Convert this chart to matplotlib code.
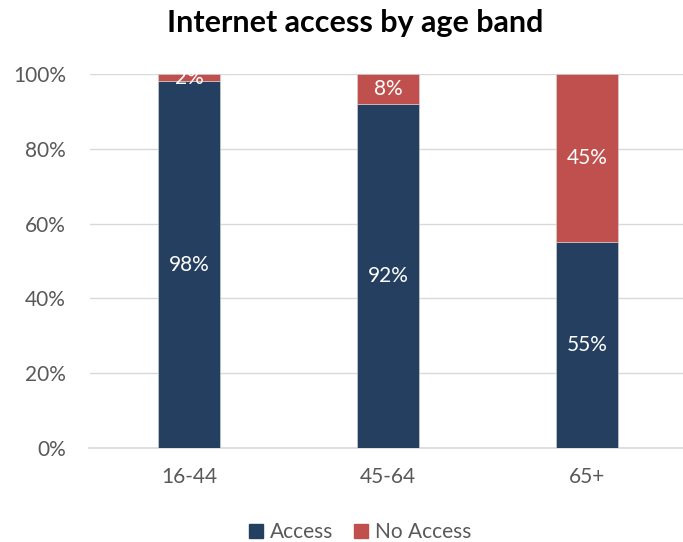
import numpy as np
import matplotlib
matplotlib.use("Agg")
import matplotlib.pyplot as plt
from matplotlib.patches import Patch

plt.rcParams['font.family'] = ['Lato', 'DejaVu Sans']

# data
bands = ['16-44', '45-64', '65+']
access = [98, 92, 55]
no_access = [2, 8, 45]

navy = '#243F60'
red = '#C0504D'
grey = '#595959'

fig = plt.figure(figsize=(6.83, 5.42), dpi=100)
ax = fig.add_axes([89.5/683, 94/542, 597/683, 374/542])

x = np.arange(len(bands))
w = 0.31
b1 = ax.bar(x, access, w, color=navy, edgecolor='#D9D9D9', linewidth=0.4, zorder=3)
b2 = ax.bar(x, no_access, w, bottom=access, color=red, edgecolor='#D9D9D9', linewidth=0.4, zorder=3)

for i in range(len(bands)):
    ax.text(x[i], access[i]/2, '%d%%' % access[i], ha='center', va='center',
            color='white', fontsize=15, zorder=4)
    ax.text(x[i], access[i] + no_access[i]/2, '%d%%' % no_access[i], ha='center', va='center',
            color='white', fontsize=15, zorder=4)

ax.set_xlim(-0.5, 2.5)
ax.set_ylim(0, 100)
ax.set_yticks(np.arange(0, 101, 20))
ax.set_yticklabels(['%d%%' % v for v in range(0, 101, 20)])
ax.set_xticks(x)
ax.set_xticklabels(bands)
ax.grid(axis='y', color='#D9D9D9', linewidth=1, zorder=0)
for s in ['top', 'right', 'left']:
    ax.spines[s].set_visible(False)
ax.spines['bottom'].set_color('#D9D9D9')
ax.spines['bottom'].set_linewidth(1.2)
ax.tick_params(length=0, labelsize=15, labelcolor=grey)
ax.tick_params(axis='x', pad=14)
ax.tick_params(axis='y', pad=17)

fig.text(0.52, 0.958, 'Internet access by age band', ha='center', va='center',
         fontsize=22, fontweight='bold', color='black')

handles = [Patch(color=navy, label='Access'), Patch(color=red, label='No Access')]
fig.legend(handles=handles, loc='center', bbox_to_anchor=(0.527, 0.018), ncol=2, frameon=False,
           fontsize=15, labelcolor=grey, handlelength=0.7, handleheight=0.7,
           handletextpad=0.3, columnspacing=1.0)

fig.savefig('out.png', dpi=100)
